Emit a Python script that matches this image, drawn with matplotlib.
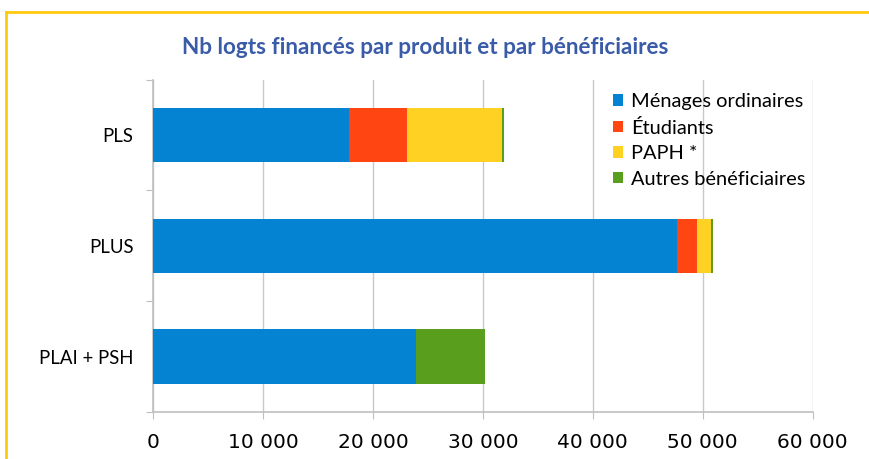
import matplotlib
matplotlib.use("Agg")
import matplotlib.pyplot as plt
from matplotlib.lines import Line2D
from matplotlib.ticker import FuncFormatter
import numpy as np

# données
produits = ["PLS", "PLUS", "PLAI + PSH"]
series = ["Ménages ordinaires", "Étudiants", "PAPH *", "Autres bénéficiaires"]
menages = [17850, 47620, 23950]
etudiants = [5280, 1820, 0]
paph = [8650, 1330, 0]
autres = [110, 120, 6280]
couleurs = ["#0483D2", "#FF4512", "#FFD122", "#5A9E1E"]

valeurs = [menages, etudiants, paph, autres]

fig = plt.figure(figsize=(8.7, 4.59), dpi=100)
ax = fig.add_axes([153 / 870, (459 - 412) / 459, (812.7 - 153) / 870, (412 - 79.5) / 459])

y = np.arange(len(produits))[::-1]
gauche = np.zeros(len(produits))
for nom, vals, c in zip(series, valeurs, couleurs):
    ax.barh(y, vals, left=gauche, height=0.49, color=c, label=nom, zorder=3)
    gauche += np.array(vals)

ax.set_xlim(0, 60000)
ax.set_ylim(-0.5, 2.5)
ax.set_xticks(np.arange(0, 60001, 10000))
ax.xaxis.set_major_formatter(FuncFormatter(lambda v, p: f"{int(v):,}".replace(",", " ")))
ax.set_yticks([-0.5, 0.5, 1.5, 2.5])
ax.set_yticklabels([])
ax.set_yticks(y, minor=True)
ax.set_yticklabels(produits, minor=True, fontfamily="Lato", fontsize=13.4)
ax.tick_params(axis="y", which="minor", length=0, pad=14)
ax.tick_params(axis="y", which="major", length=5, color="#BFBFBF", direction="out")
ax.tick_params(axis="x", length=5, color="#BFBFBF", pad=10)
for lab in ax.get_xticklabels():
    lab.set_fontfamily("Liberation Sans Narrow")
    lab.set_fontsize(14.5)

ax.grid(axis="x", color="#C8C8C8", linewidth=1, zorder=0)
for s in ["top", "right"]:
    ax.spines[s].set_visible(False)
for s in ["left", "bottom"]:
    ax.spines[s].set_color("#BFBFBF")
    ax.spines[s].set_linewidth(1.2)

fig.text(425 / 870, 1 - 48 / 459, "Nb logts financés par produit et par bénéficiaires",
         ha="center", va="center", fontfamily="Lato", fontweight="bold",
         fontsize=16.2, color="#3A5BA8")

ax.legend(loc="upper left", bbox_to_anchor=(613 / 870, 1 - 93 / 459),
          bbox_transform=fig.transFigure, frameon=False,
          prop={"family": "Lato", "size": 14.4}, handlelength=0.5,
          handleheight=0.5, handletextpad=0.4, labelspacing=0.43,
          borderaxespad=0, borderpad=0)

# cadre jaune
fig.add_artist(Line2D([6 / 870, 1], [1 - 12 / 459, 1 - 12 / 459], color="#FFC90E", lw=2))
fig.add_artist(Line2D([6 / 870, 6 / 870], [0, 1 - 12 / 459], color="#FFC90E", lw=2))

fig.savefig("out.png", dpi=100)
